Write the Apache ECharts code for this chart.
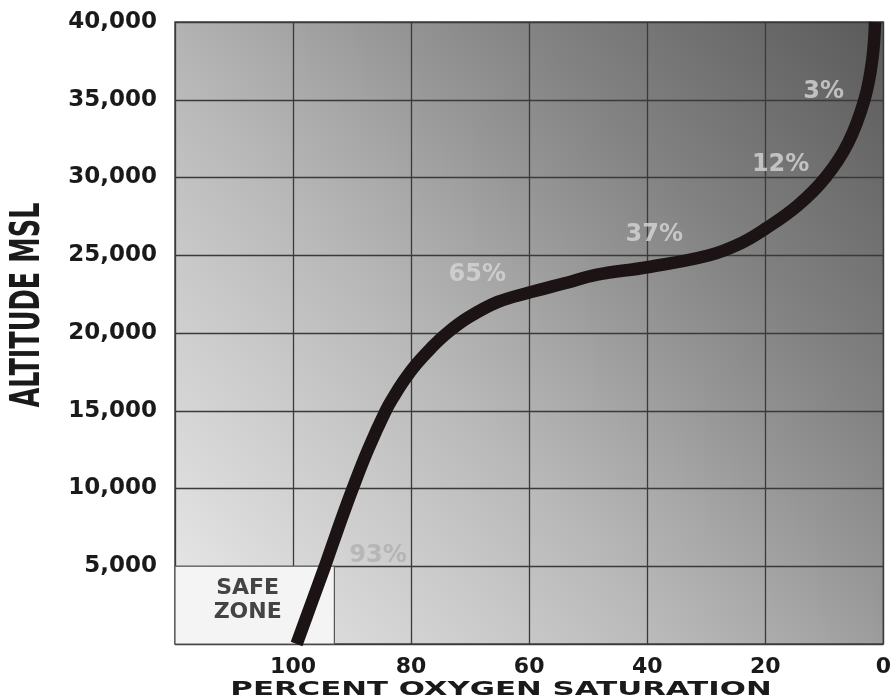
<!DOCTYPE html>
<html>
<head>
<meta charset="utf-8">
<script src="https://cdn.jsdelivr.net/npm/echarts@6/dist/echarts.min.js"></script>
<style>
  html, body { margin: 0; padding: 0; background: #fff; }
  #chart { width: 894px; height: 700px; }
</style>
</head>
<body>
<div id="chart"></div>
<script>
// saturation curve: [percent O2 saturation, altitude ft]
var curvePoints = [
    [99.4, 0], [97.0, 2500], [94.6, 5000], [92.3, 7500], [89.9, 10000],
    [87.3, 12500], [84.3, 15000], [82.8, 16000], [81.1, 17000], [79.1, 18000],
    [76.7, 19000], [73.9, 20000], [70.3, 21000], [65.3, 22000], [60.0, 22600],
    [54.0, 23200], [48.5, 23750], [40.0, 24230], [29.5, 25000], [24.0, 25800],
    [20.0, 26700], [14.5, 28200], [9.8, 30000], [6.0, 32200], [3.2, 35000],
    [1.9, 37500], [1.4, 40000]
];
// labels written on the bands: [saturation, altitude, text]
var bandLabels = [
    [10.1, 35500, '3%'],
    [17.4, 30800, '12%'],
    [38.8, 26300, '37%'],
    [68.8, 23730, '65%']
];
var faintLabels = [
    [85.6, 5700, '93%']
];
var safeZone = { satFrom: 120, satTo: 93, altFrom: 0, altTo: 5000, text: 'SAFE\nZONE' };
var xTicks = { min: 0, max: 120, step: 20 };
var yTicks = { min: 0, max: 40000, step: 5000 };

var chart = echarts.init(document.getElementById('chart'));

var bg = new echarts.graphic.LinearGradient(0, 1, 1, 0, [
    { offset: 0, color: '#ececec' },
    { offset: 0.14, color: '#d9d9d9' },
    { offset: 0.28, color: '#c8c8c8' },
    { offset: 0.40, color: '#b8b8b8' },
    { offset: 0.50, color: '#a8a8a8' },
    { offset: 0.60, color: '#969696' },
    { offset: 0.72, color: '#828282' },
    { offset: 0.86, color: '#6e6e6e' },
    { offset: 1, color: '#5a5a5a' }
]);

function thousands(v) {
    return String(v).replace(/\B(?=(\d{3})+(?!\d))/g, ',');
}

var option = {
    animation: false,
    backgroundColor: '#ffffff',
    grid: {
        left: 175, right: 6, top: 22, bottom: 56,
        show: true,
        backgroundColor: bg,
        borderColor: '#4a4a4a',
        borderWidth: 1.5
    },
    xAxis: {
        type: 'value',
        min: xTicks.min, max: xTicks.max, interval: xTicks.step,
        inverse: true,
        axisLine: { show: false },
        axisTick: { show: false },
        splitLine: { lineStyle: { color: '#3a3a3a', width: 1.3 } },
        axisLabel: {
            margin: 12,
            color: '#1a1a1a',
            fontFamily: 'DejaVu Sans',
            fontWeight: 'bold',
            fontSize: 22,
            formatter: function (v) { return v === xTicks.max ? '' : String(v); }
        }
    },
    yAxis: {
        type: 'value',
        min: yTicks.min, max: yTicks.max, interval: yTicks.step,
        axisLine: { show: false },
        axisTick: { show: false },
        splitLine: { lineStyle: { color: '#3a3a3a', width: 1.3 } },
        axisLabel: {
            margin: 18,
            color: '#1a1a1a',
            fontFamily: 'DejaVu Sans',
            fontWeight: 'bold',
            fontSize: 23,
            formatter: function (v) { return v === yTicks.min ? '' : thousands(v); }
        }
    },
    graphic: [
        {
            type: 'text',
            x: 501, y: 690,
            scaleX: 1.62,
            style: {
                text: 'PERCENT OXYGEN SATURATION',
                fontFamily: 'DejaVu Sans', fontWeight: 'bold', fontSize: 19,
                fill: '#1a1a1a',
                align: 'center', verticalAlign: 'middle',
                textAlign: 'center', textVerticalAlign: 'middle'
            }
        },
        {
            type: 'text',
            x: 29, y: 305,
            rotation: Math.PI / 2,
            scaleX: 0.64,
            style: {
                text: 'ALTITUDE MSL',
                fontFamily: 'DejaVu Sans', fontWeight: 'bold', fontSize: 40,
                fill: '#1a1a1a',
                align: 'center', verticalAlign: 'middle',
                textAlign: 'center', textVerticalAlign: 'middle'
            }
        }
    ],
    series: [
        {
            type: 'line',
            data: curvePoints,
            smooth: 0.4,
            symbol: 'none',
            z: 5,
            lineStyle: { color: '#1c1414', width: 12.5, cap: 'butt' },
            markArea: {
                silent: true,
                itemStyle: { color: '#f4f4f4', borderColor: '#555555', borderWidth: 1.2 },
                label: {
                    show: true,
                    position: 'inside',
                    offset: [-7, -5],
                    color: '#444444',
                    fontFamily: 'DejaVu Sans',
                    fontWeight: 'bold',
                    fontSize: 22,
                    lineHeight: 24
                },
                data: [[
                    { name: safeZone.text, xAxis: safeZone.satFrom, yAxis: safeZone.altFrom },
                    { xAxis: safeZone.satTo, yAxis: safeZone.altTo }
                ]]
            }
        },
        {
            type: 'scatter',
            data: bandLabels,
            symbolSize: 0,
            z: 4,
            label: {
                show: true,
                position: 'inside',
                color: '#d6d6d6',
                fontFamily: 'DejaVu Sans',
                fontWeight: 'bold',
                fontSize: 24,
                formatter: function (p) { return p.value[2]; }
            }
        },
        {
            type: 'scatter',
            data: faintLabels,
            symbolSize: 0,
            z: 4,
            label: {
                show: true,
                position: 'inside',
                color: 'rgba(150,150,150,0.55)',
                fontFamily: 'DejaVu Sans',
                fontWeight: 'bold',
                fontSize: 24,
                formatter: function (p) { return p.value[2]; }
            }
        }
    ]
};

chart.setOption(option);
</script>
</body>
</html>
